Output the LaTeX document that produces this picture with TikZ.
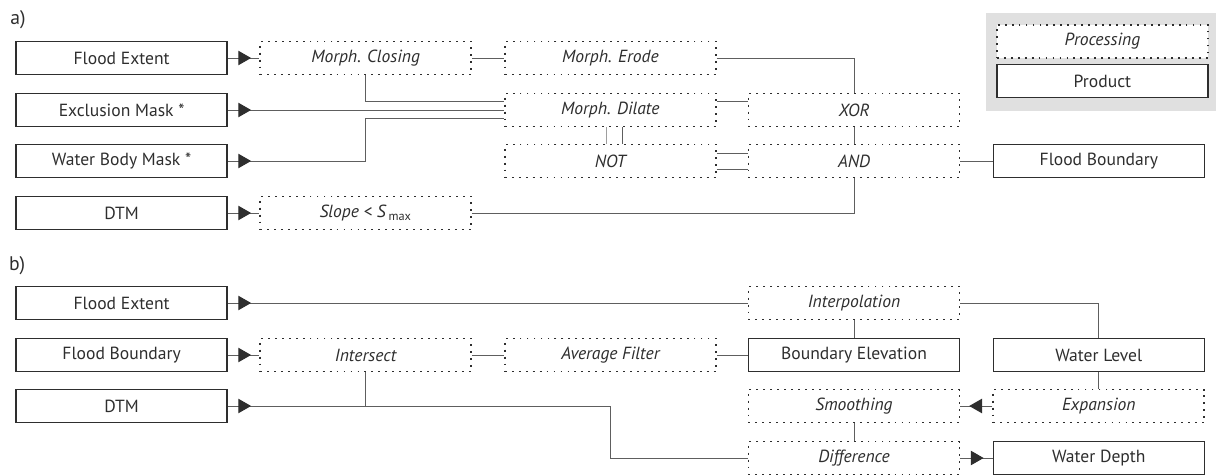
\documentclass[tikz,border=0pt]{standalone}
\usepackage{fontspec}
\setmainfont{PT Sans}
\usepackage{xcolor}
\usetikzlibrary{arrows.meta,decorations.markings}
\definecolor{ink}{HTML}{2E2E2E}
\definecolor{wire}{HTML}{5E5E5E}
\definecolor{legendbg}{HTML}{E0E0E0}

\begin{document}
\begin{tikzpicture}[
    prod/.style={draw=ink, line width=1.1pt, rectangle, minimum width=5.275cm, minimum height=0.825cm, inner sep=0pt, text=ink, font=\fontsize{12.5}{14}\selectfont},
    proc/.style={prod, line width=1.3pt, dash pattern=on 1.3pt off 3.65pt, font=\fontsize{12.5}{14}\selectfont\itshape},
    link/.style={draw=wire, line width=0.7pt},
    flow/.style={link, postaction={decorate}, decoration={markings, mark=at position 0.58cm with {\arrow[ink]{Triangle[length=0.32cm, width=0.36cm]}}}},
    tag/.style={text=ink, font=\fontsize{14}{16}\selectfont}
  ]
    \useasboundingbox (0,0) rectangle (30.4,-11.875);

    % Legend
    \fill[legendbg] (24.65,-0.325) rectangle (30.4,-2.775);
    \node[proc, fill=white] (legproc) at (27.56,-1.04) {Processing};
    \node[prod, fill=white] (legprod) at (27.56,-2.025) {Product};

    % a) Inputs
    \node[tag] (taga) at (0.45,-0.5) {a)};
    \node[prod] (aext) at (3.04,-1.45) {Flood Extent};
    \node[prod] (aexcl) at (3.04,-2.75) {Exclusion Mask *};
    \node[prod] (awater) at (3.04,-4.025) {Water Body Mask *};
    \node[prod] (adtm) at (3.04,-5.325) {DTM};

    % a) Processing
    \node[proc] (closing) at (9.14,-1.45) {Morph. Closing};
    \node[proc] (slope) at (9.14,-5.325) {Slope < S\,\textsubscript{\upshape max}};
    \node[proc] (erode) at (15.26,-1.45) {Morph. Erode};
    \node[proc] (dilate) at (15.26,-2.75) {Morph. Dilate};
    \node[proc] (negate) at (15.26,-4.025) {NOT};
    \node[proc] (xor) at (21.35,-2.75) {XOR};
    \node[proc] (and) at (21.35,-4.025) {AND};
    \node[prod] (abound) at (27.47,-4.025) {Flood Boundary};

    % a) Connections
    \draw[flow] (aext) -- (closing);
    \draw[flow] (adtm) -- (slope);
    \draw[link] (closing) -- (erode);
    \draw[link] (closing.south) |- ([yshift=0.225cm]dilate.west);
    \draw[flow] (aexcl.east) -- (aexcl.east -| dilate.west);
    \draw[flow] (awater.east) -- (awater.east -| closing.south) |- ([yshift=-0.2cm]dilate.west);
    \draw[link] (erode.east) -| (xor.north);
    \draw[link] ([yshift=0.225cm]dilate.east) -- ([yshift=0.225cm]xor.west);
    \draw[link, draw=wire!60] ([xshift=-0.11cm]dilate.south) -- ([xshift=-0.11cm]negate.north);
    \draw[link] ([xshift=0.29cm]dilate.south) -- ([xshift=0.29cm]negate.north);
    \draw[link] ([yshift=0.2cm]negate.east) -- ([yshift=0.2cm]and.west);
    \draw[link] ([yshift=-0.2cm]negate.east) -- ([yshift=-0.2cm]and.west);
    \draw[link] (xor) -- (and);
    \draw[link] (and.south) |- (slope.east);
    \draw[link] (and) -- (abound);

    % b) Inputs
    \node[tag] (tagb) at (0.43,-6.65) {b)};
    \node[prod] (bext) at (3.04,-7.575) {Flood Extent};
    \node[prod] (bbound) at (3.04,-8.875) {Flood Boundary};
    \node[prod] (bdtm) at (3.04,-10.15) {DTM};

    % b) Processing and products
    \node[proc] (intersect) at (9.14,-8.875) {Intersect};
    \node[proc] (avg) at (15.26,-8.875) {Average Filter};
    \node[proc] (interp) at (21.35,-7.575) {Interpolation};
    \node[prod] (elev) at (21.35,-8.875) {Boundary Elevation};
    \node[proc] (smooth) at (21.35,-10.15) {Smoothing};
    \node[proc] (diff) at (21.35,-11.45) {Difference};
    \node[prod] (level) at (27.47,-8.875) {Water Level};
    \node[proc] (expand) at (27.47,-10.15) {Expansion};
    \node[prod] (depth) at (27.47,-11.45) {Water Depth};

    % b) Connections
    \draw[flow] (bext) -- (interp);
    \draw[flow] (bbound) -- (intersect);
    \draw[flow] (bdtm.east) -- (bdtm.east -| avg) |- (diff.west);
    \draw[link] (intersect.south) -- (intersect.south |- bdtm.east);
    \draw[link] (intersect) -- (avg);
    \draw[link] (avg) -- (elev);
    \draw[link] (interp) -- (elev);
    \draw[link] (interp.east) -| (level.north);
    \draw[link] (level) -- (expand);
    \draw[flow] (expand) -- (smooth);
    \draw[link] (smooth) -- (diff);
    \draw[flow] (diff) -- (depth);
\end{tikzpicture}
\end{document}
